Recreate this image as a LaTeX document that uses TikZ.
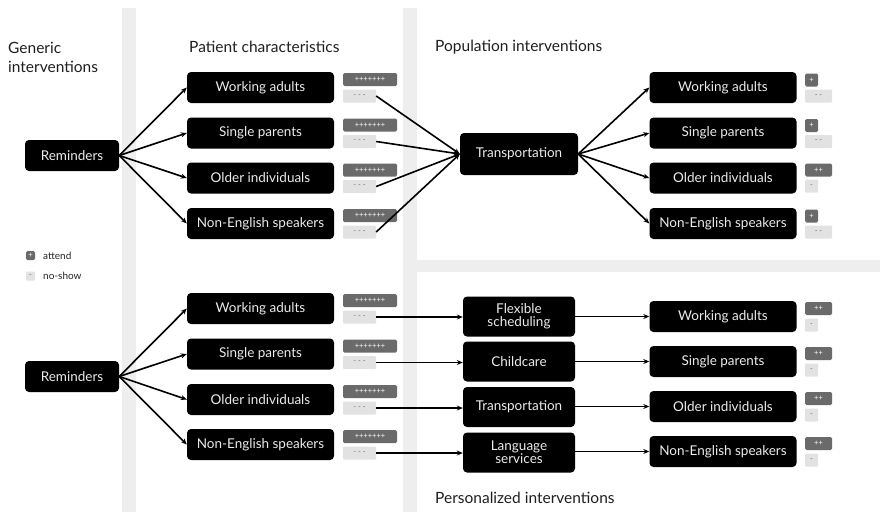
\documentclass[tikz,border=0pt]{standalone}
\usepackage{fontspec}
\setmainfont{Lato}
\usetikzlibrary{arrows.meta}
\definecolor{band}{HTML}{EEEEEE}
\definecolor{pdark}{HTML}{6A6A6A}
\definecolor{plight}{HTML}{E2E2E2}
\tikzset{
  box/.style={fill=black, rounded corners=4pt, text=white!92!black, inner sep=0pt, align=center,
    font=\fontsize{13.5}{14}\selectfont},
  wbox/.style={box, minimum width=147pt, minimum height=31pt},
  pbox/.style={box, minimum width=112pt, minimum height=40pt},
  pilld/.style={fill=pdark, rounded corners=1.5pt, text=white, inner sep=0pt, minimum height=13pt,
    font=\fontsize{7.5}{7.5}\selectfont},
  pilll/.style={fill=plight, rounded corners=1pt, text=black!60, inner sep=0pt, minimum height=13pt,
    font=\fontsize{7.5}{7.5}\selectfont},
  head/.style={font=\fontsize{15.5}{19}\selectfont, text=black!88, inner sep=0pt, align=left},
  legt/.style={anchor=west, inner sep=0pt, font=\fontsize{10}{10}\selectfont, text=black!85},
  arr/.style={line width=1.6pt, -{Stealth[length=6pt,width=5pt]}},
}
\begin{document}
\begin{tikzpicture}[x=1pt,y=-1pt]
\useasboundingbox (0,0) rectangle (880,512);
\fill[white] (0,0) rectangle (880,512);
% bands
\fill[band] (122,8) rectangle (136,512);
\fill[band] (403,8) rectangle (417,512);
\fill[band] (417,260) rectangle (880,272);

% headings
\node[head, anchor=north west] (hgen) at (8,42) {Generic\\interventions};
\node[head, anchor=west] (hpat) at (189,47) {Patient characteristics};
\node[head, anchor=west] (hpop) at (435,47) {Population interventions};
\node[head, anchor=west] (hper) at (435,498) {Personalized interventions};

% legend
\node[pilld, minimum width=9pt, minimum height=9pt] (lgA) at (30.5,255.5) {+};
\node[legt] (lgAt) at (43,255.5) {attend};
\node[pilll, minimum width=9pt, minimum height=9pt] (lgN) at (30.5,276) {-};
\node[legt] (lgNt) at (43,276) {no-show};

% ===== top section =====
\node[box, minimum width=94pt, minimum height=31pt] (r1) at (72,155.5) {Reminders};
\node[wbox] (a1) at (260.5,87.5) {Working adults};
\node[wbox] (a2) at (260.5,133) {Single parents};
\node[wbox] (a3) at (260.5,178) {Older individuals};
\node[wbox] (a4) at (260.5,223.5) {Non-English speakers};
\foreach \i/\y in {1/87.5,2/133,3/178,4/223.5}{
  \node[pilld, minimum width=54pt] (ad\i) at (370,\y-8) {+++++++};
  \node[pilll, minimum width=33pt] (al\i) at (359.5,\y+8.5) {- - -};
}
\node[box, minimum width=118pt, minimum height=42pt] (t1) at (519,154) {Transportation};
\node[wbox] (b1) at (723,87.5) {Working adults};
\node[wbox] (b2) at (723,133) {Single parents};
\node[wbox] (b3) at (723,178) {Older individuals};
\node[wbox] (b4) at (723,223.5) {Non-English speakers};
\node[pilld, minimum width=13pt] (bd1) at (811.5,80) {+};
\node[pilll, minimum width=27pt] (bl1) at (818.5,96) {- -};
\node[pilld, minimum width=13pt] (bd2) at (811.5,125.5) {+};
\node[pilll, minimum width=27pt] (bl2) at (818.5,141.5) {- -};
\node[pilld, minimum width=27pt] (bd3) at (818.5,170) {++};
\node[pilll, minimum width=13pt] (bl3) at (811.5,186) {-};
\node[pilld, minimum width=13pt] (bd4) at (811.5,216) {+};
\node[pilll, minimum width=27pt] (bl4) at (818.5,232) {- -};

\foreach \i in {1,2,3,4}{
  \draw[arr] (r1.east) -- (a\i.west);
  \draw[arr] (al\i.east) -- (t1.west);
  \draw[arr] (t1.east) -- (b\i.west);
}

% ===== bottom section =====
\node[box, minimum width=94pt, minimum height=31pt] (r2) at (72,376.5) {Reminders};
\node[wbox] (c1) at (260.5,308.5) {Working adults};
\node[wbox] (c2) at (260.5,354) {Single parents};
\node[wbox] (c3) at (260.5,399.5) {Older individuals};
\node[wbox] (c4) at (260.5,444.5) {Non-English speakers};
\foreach \i/\y in {1/308.5,2/354,3/399.5,4/444.5}{
  \node[pilld, minimum width=54pt] (cd\i) at (370,\y-8) {+++++++};
  \node[pilll, minimum width=33pt] (cl\i) at (359.5,\y+8.5) {- - -};
}
\node[pbox] (p1) at (519,316.5) {Flexible\\[-1pt]scheduling};
\node[pbox] (p2) at (519,361.5) {Childcare};
\node[pbox] (p3) at (519,407) {Transportation};
\node[pbox] (p4) at (519,452.5) {Language\\[-1pt]services};
\node[wbox] (d1) at (723,316.5) {Working adults};
\node[wbox] (d2) at (723,361.5) {Single parents};
\node[wbox] (d3) at (723,406.5) {Older individuals};
\node[wbox] (d4) at (723,451.5) {Non-English speakers};
\foreach \i/\y in {1/316.5,2/361.5,3/406.5,4/451.5}{
  \node[pilld, minimum width=27pt] (dd\i) at (818.5,\y-8) {++};
  \node[pilll, minimum width=13pt] (dl\i) at (811.5,\y+8.5) {-};
}
\foreach \i in {1,2,3,4}{
  \draw[arr] (r2.east) -- (c\i.west);
  \draw[arr] (cl\i.east) -- (p\i.west |- cl\i.east);
  \draw[arr] (p\i.east |- d\i.west) -- (d\i.west);
}
\end{tikzpicture}
\end{document}
